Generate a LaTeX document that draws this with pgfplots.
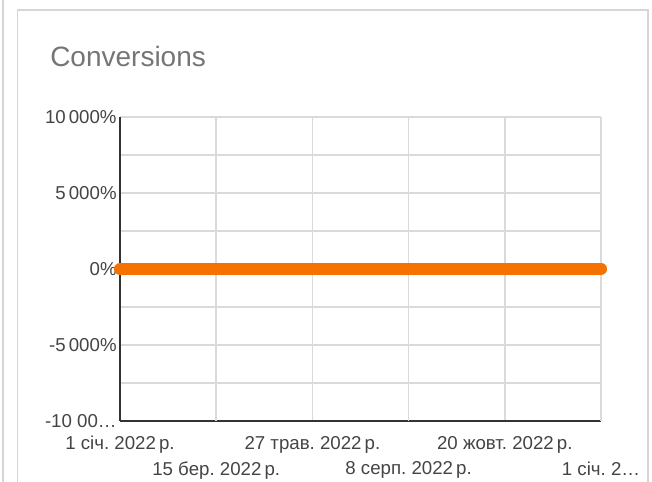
\documentclass[border=0pt]{standalone}
\usepackage{pgfplots}
\pgfplotsset{compat=1.18}
\usepackage{fontspec}
\setmainfont{Liberation Sans}
\frenchspacing
\definecolor{convorange}{RGB}{245,114,0}
\definecolor{gridgray}{RGB}{218,218,218}
\definecolor{cardgray}{RGB}{214,214,214}
\definecolor{labelgray}{RGB}{68,68,68}
\definecolor{titlegray}{RGB}{117,117,117}
\begin{document}
\begin{tikzpicture}
% page is 652x481 px, 1px = 0.75pt
\useasboundingbox (0,0) rectangle (489pt,360.75pt);
\draw[cardgray,line width=1.5pt] (1.9pt,-5pt) -- (1.9pt,366pt);
\draw[cardgray,line width=1.2pt] (13.1pt,-10pt) rectangle (486pt,353.25pt);
\node[anchor=base west,inner sep=0pt,text=titlegray,font=\fontsize{21}{25}\selectfont] at (37.5pt,310.5pt) {Conversions};
\begin{axis}[
  at={(90pt,45pt)}, anchor=south west,
  scale only axis, width=360.75pt, height=228pt,
  xmin=0, xmax=365, ymin=-10000, ymax=10000,
  clip=false,
  scaled y ticks=false,
  axis x line*=bottom, axis y line*=left,
  axis line style={-,draw=black!80,line width=1.5pt},
  xtick={0,146,292},
  xticklabels={1 січ. 2022\,р., 27 трав. 2022\,р., 20 жовт. 2022\,р.},
  extra x ticks={73,219,365},
  extra x tick labels={15 бер. 2022\,р., 8 серп. 2022\,р., 1 січ. 2…},
  extra x tick style={grid=major, tick label style={yshift=-19pt}},
  ytick={-10000,-5000,0,5000,10000},
  yticklabels={-10 00…, -5\,000\%, 0\%, 5\,000\%, 10\,000\%},
  minor y tick num=1,
  xmajorgrids, ymajorgrids, yminorgrids,
  grid style={gridgray,line width=1.2pt},
  minor grid style={gridgray,line width=1.2pt},
  major tick length=0pt, minor tick length=0pt,
  tick label style={text=labelgray,font=\fontsize{14}{16}\selectfont},
  xticklabel style={yshift=-8pt},
  yticklabel style={xshift=1pt},
]
\addplot[convorange,line width=9pt,line cap=round] coordinates {
  (0,0) (31,0) (59,0) (90,0) (120,0) (151,0) (181,0)
  (212,0) (243,0) (273,0) (304,0) (334,0) (365,0)
};
\end{axis}
\end{tikzpicture}
\end{document}
